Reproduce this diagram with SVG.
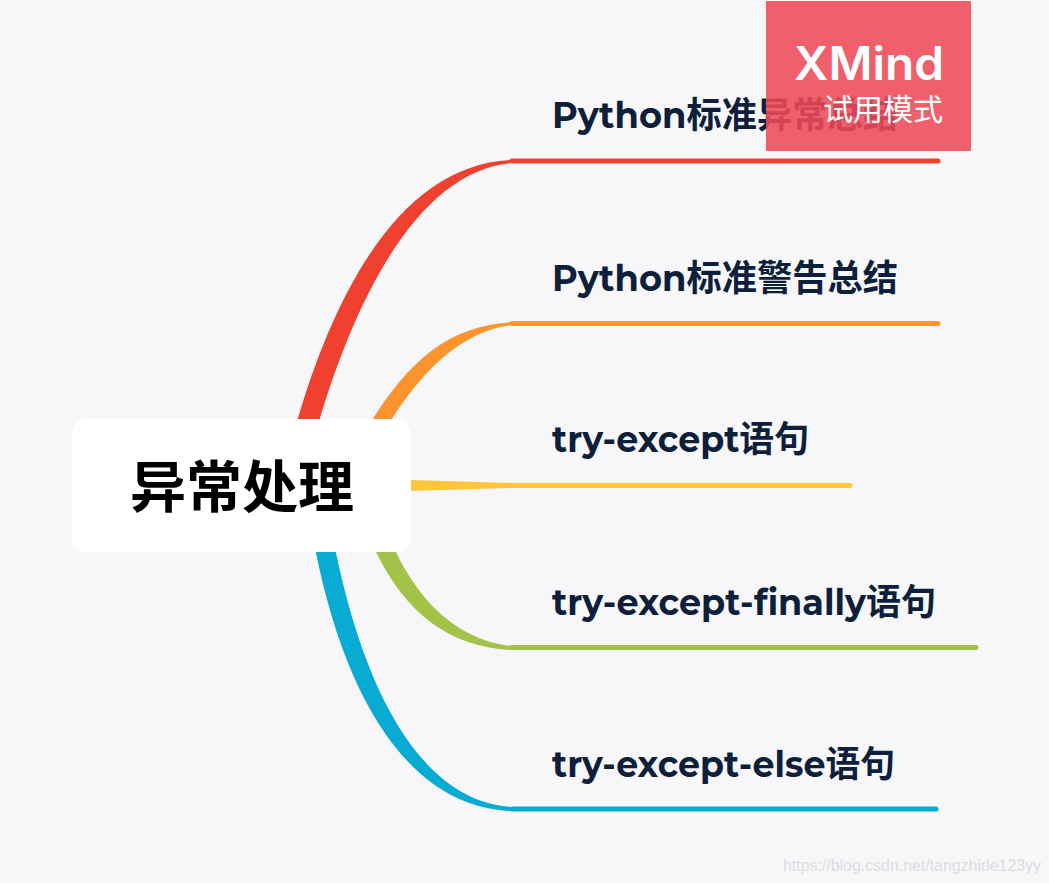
<svg xmlns="http://www.w3.org/2000/svg" width="1049" height="883" viewBox="0 0 1049 883">
<style>
.t{font-family:"Montserrat","Inter","Noto Sans CJK SC",sans-serif;font-weight:700;font-size:36px;fill:#0d1f3a}
.ln{stroke-width:5;stroke-linecap:round;fill:none}
</style>
<rect width="1049" height="883" fill="#f7f7fa"/>
<g id="connectors">
<path d="M296 425C340 272 410 164 512 160L512 163C425 170 360 282 318 425Z" fill="#f0402f"/>
<path class="ln" d="M512 161H938" stroke="#f0402f"/>
<path d="M369 425C410 358 450 326 512 322L512 325C465 331 425 365 388 425Z" fill="#fb942c"/>
<path class="ln" d="M512 323.500H938" stroke="#fb942c"/>
<path d="M410 480L512 483L512 488L410 491Z" fill="#ffc639"/>
<path class="ln" d="M512 485.500H850" stroke="#ffc639"/>
<path d="M374 548C406 615 450 647 512 650L512 646C470 642 425 615 394 548Z" fill="#a3c248"/>
<path class="ln" d="M512 647.500H976" stroke="#a3c248"/>
<path d="M315 548C345 700 410 808 512 811L512 807C425 802 366 700 335 548Z" fill="#08acd3"/>
<path class="ln" d="M512 809H936" stroke="#08acd3"/>
</g>
<g id="root">
<rect x="72" y="419" width="339" height="133" rx="14" fill="#fff"/>
<text x="242" y="507" text-anchor="middle" font-family="'Noto Sans CJK SC',sans-serif" font-weight="700" font-size="56" fill="#000">异常处理</text>
</g>
<g id="n1"><text class="t" x="552" y="128" textLength="346" lengthAdjust="spacingAndGlyphs">Python标准异常总结</text></g>
<g id="n2"><text class="t" x="552" y="291" textLength="346" lengthAdjust="spacingAndGlyphs">Python标准警告总结</text></g>
<g id="n3"><text class="t" x="552" y="452" textLength="257" lengthAdjust="spacingAndGlyphs">try-except语句</text></g>
<g id="n4"><text class="t" x="552" y="615" textLength="384" lengthAdjust="spacingAndGlyphs">try-except-finally语句</text></g>
<g id="n5"><text class="t" x="552" y="777" textLength="343" lengthAdjust="spacingAndGlyphs">try-except-else语句</text></g>
<g id="watermark">
<rect x="766" y="1" width="205" height="150" rx="1" fill="#ee4a58" fill-opacity=".88"/>
<text x="869" y="80" text-anchor="middle" font-family="Inter,'Noto Sans',sans-serif" font-weight="600" font-size="46" fill="#fff" textLength="150" lengthAdjust="spacingAndGlyphs">XMind</text>
<text x="883" y="120" text-anchor="middle" font-family="'Noto Sans CJK SC',sans-serif" font-size="30" fill="#fff">试用模式</text>
</g>
<text x="783" y="871" font-family="'Liberation Sans',sans-serif" font-size="16" fill="#dcdce0" textLength="258" lengthAdjust="spacingAndGlyphs">https://blog.csdn.net/tangzhide123yy</text>
</svg>
